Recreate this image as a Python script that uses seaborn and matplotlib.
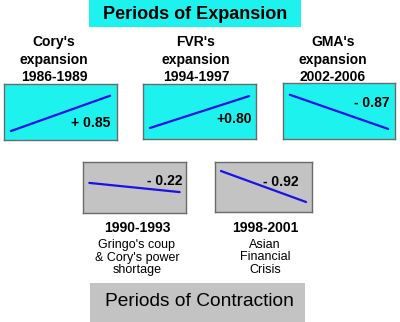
import matplotlib
matplotlib.use("Agg")
import matplotlib.pyplot as plt
import seaborn as sns
import pandas as pd
from matplotlib.patches import Rectangle

sns.set_theme(style="white")
plt.rcParams['font.family'] = ['Liberation Sans', 'DejaVu Sans']

# ---- data ----
panel_titles = ["Cory's\nexpansion\n1986-1989", "FVR's\nexpansion\n1994-1997",
                "GMA's\nexpansion\n2002-2006", "", ""]
panel_labels = ["+ 0.85", "+0.80", "- 0.87", "- 0.22", "- 0.92"]
trend_x = [0.0, 1.0]
trend_start = [0.16, 0.20, 0.79, 0.59, 0.82]
trend_end = [0.79, 0.78, 0.18, 0.41, 0.20]
lower_heads = ["1990-1993", "1998-2001"]
lower_notes = ["Gringo's coup\n& Cory's power\nshortage", "Asian\nFinancial\nCrisis"]
banner_top = "Periods of Expansion"
banner_bottom = "Periods of Contraction"

CYAN = "#1ef2ee"
GRAY = "#c3c3c3"
BLUE = "#1a12e6"

W, H = 400, 322
fig = plt.figure(figsize=(4.0, 3.22), dpi=100)
fig.patch.set_facecolor("white")

bg = fig.add_axes([0, 0, 1, 1])
bg.set_xlim(0, W)
bg.set_ylim(H, 0)
bg.axis("off")

# banners
bg.add_patch(Rectangle((89, 0), 212, 27, facecolor=CYAN, edgecolor="none"))
bg.text(195, 14, banner_top, ha="center", va="center", fontsize=13, fontweight="bold", color="black")
bg.add_patch(Rectangle((90, 283), 215, 39, facecolor=GRAY, edgecolor="none"))
bg.text(199.5, 302, banner_bottom, ha="center", va="center", fontsize=13.8, color="black")

# panel boxes (x0, y0, x1, y1) in pixels
boxes = [(4, 84, 117, 140), (143, 84, 256, 139), (283, 83, 395, 139),
         (83, 162, 186, 213), (215, 162, 312, 212)]
faces = [CYAN, CYAN, CYAN, GRAY, GRAY]
label_pos = [(0.94, 0.30), (0.965, 0.36), (0.955, 0.64), (0.96, 0.63), (0.86, 0.60)]
title_x = [54, 196, 333]

for i, (x0, y0, x1, y1) in enumerate(boxes):
    ax = fig.add_axes([x0 / W, 1 - y1 / H, (x1 - x0) / W, (y1 - y0) / H])
    df = pd.DataFrame({"x": trend_x, "y": [trend_start[i], trend_end[i]]})
    sns.lineplot(data=df, x="x", y="y", ax=ax, color=BLUE, linewidth=1.6)
    ax.set_xlim(-0.07, 1.07)
    ax.set_ylim(0, 1)
    ax.set_xticks([])
    ax.set_yticks([])
    ax.set_xlabel("")
    ax.set_ylabel("")
    ax.set_facecolor(faces[i])
    for s in ax.spines.values():
        s.set_color("#6a6a6a")
        s.set_linewidth(1.0)
        s.set_visible(True)
    lx, ly = label_pos[i]
    ax.text(lx, ly, panel_labels[i], transform=ax.transAxes, ha="right", va="center",
            fontsize=10, fontweight="bold", color="black")
    if i < 3:
        bg.text(title_x[i], 59.5, panel_titles[i], ha="center", va="center", fontsize=10,
                fontweight="bold", linespacing=1.3, color="black")

# lower captions
lower_x = [137, 265]
for j in range(2):
    bg.text(lower_x[j], 228, lower_heads[j], ha="center", va="center", fontsize=10,
            fontweight="bold", color="black")
    bg.text(lower_x[j], 257.5, lower_notes[j], ha="center", va="center", fontsize=9,
            linespacing=1.1, color="black")

fig.savefig("out.png", dpi=100)
